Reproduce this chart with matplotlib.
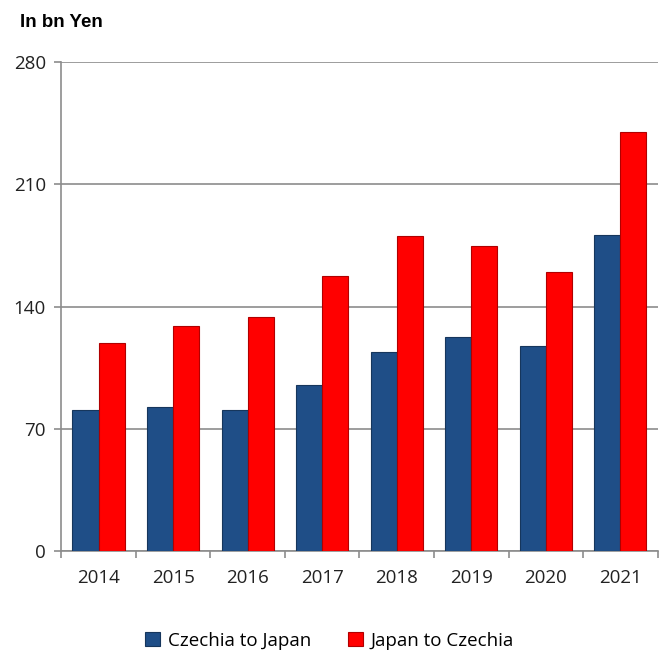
import matplotlib
matplotlib.use("Agg")
import matplotlib.pyplot as plt
import numpy as np

years = ["2014", "2015", "2016", "2017", "2018", "2019", "2020", "2021"]
czechia_to_japan = [81, 82.5, 81, 95, 114, 122.5, 117.5, 181]
japan_to_czechia = [119, 129, 134, 157.5, 180.5, 174.5, 160, 240]

fig = plt.figure(figsize=(6.59, 6.57), dpi=100)
ax = fig.add_axes([0.093, 0.1613, 0.905, 0.7443])

x = np.arange(len(years))
w = 0.35
ax.bar(x - w/2, czechia_to_japan, w, color="#1F4E87", edgecolor="#16365C", linewidth=0.8,
       label="Czechia to Japan", zorder=3)
ax.bar(x + w/2, japan_to_czechia, w, color="#FF0000", edgecolor="#B00000", linewidth=0.8,
       label="Japan to Czechia", zorder=3)

ax.set_xlim(-0.5, len(years) - 0.5)
ax.set_ylim(0, 280)
ax.set_yticks([0, 70, 140, 210, 280])
ax.yaxis.grid(True, color="#8C8C8C", linewidth=1.2, zorder=0)
ax.set_xticks(x)
ax.set_xticklabels(years)
ax.set_xticks(np.arange(-0.5, len(years)), minor=True)
ax.tick_params(axis="x", which="major", length=0, pad=13, labelsize=13.5, colors="#222222")
ax.tick_params(axis="x", which="minor", length=5, direction="out", color="#8C8C8C", width=1.2)
ax.tick_params(axis="y", length=5, direction="out", color="#8C8C8C", width=1.2, labelsize=13.5,
               labelcolor="#222222", pad=6)
for s in ["top", "right"]:
    ax.spines[s].set_visible(False)
for s in ["left", "bottom"]:
    ax.spines[s].set_color("#8C8C8C")
    ax.spines[s].set_linewidth(1.2)

for lbl in ax.get_xticklabels() + ax.get_yticklabels():
    lbl.set_fontfamily("Open Sans")

fig.text(0.03, 0.965, "In bn Yen", fontsize=13.5, fontweight="bold", family="Liberation Sans",
         ha="left", va="center")

leg = fig.legend(loc="center", bbox_to_anchor=(0.5, 0.025), ncol=2, frameon=False,
                 prop={"family": "Open Sans", "size": 13.5}, handlelength=0.8, handleheight=0.8,
                 columnspacing=2.0, handletextpad=0.4)

fig.savefig("out.png", dpi=100)
